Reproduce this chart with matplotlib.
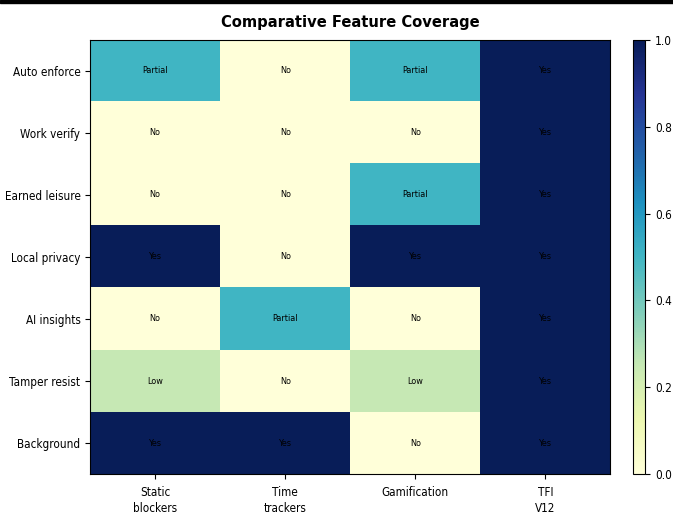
import numpy as np
import matplotlib.pyplot as plt

features = ["Auto enforce", "Work verify", "Earned leisure", "Local privacy",
            "AI insights", "Tamper resist", "Background"]
tools = ["Static\nblockers", "Time\ntrackers", "Gamification", "TFI\nV12"]

labels = [
    ["Partial", "No", "Partial", "Yes"],
    ["No", "No", "No", "Yes"],
    ["No", "No", "Partial", "Yes"],
    ["Yes", "No", "Yes", "Yes"],
    ["No", "Partial", "No", "Yes"],
    ["Low", "No", "Low", "Yes"],
    ["Yes", "Yes", "No", "Yes"],
]
score = {"No": 0.0, "Low": 0.25, "Partial": 0.5, "Yes": 1.0}
values = np.array([[score[s] for s in row] for row in labels])

plt.rcParams['font.family'] = ['DejaVu Sans']
plt.rcParams['font.stretch'] = 'condensed'

fig = plt.figure(figsize=(6.73, 5.17), dpi=100)
ax = fig.add_axes([0.134, 0.083, 0.773, 0.84])
cax = fig.add_axes([0.94, 0.083, 0.019, 0.84])

im = ax.imshow(values, cmap='YlGnBu', vmin=0, vmax=1, aspect='auto')
ax.set_xticks(range(len(tools)))
ax.set_xticklabels(tools, fontsize=8.4, linespacing=1.35)
ax.tick_params(axis='x', pad=5)
ax.set_yticks(range(len(features)))
ax.set_yticklabels(features, fontsize=8.4)
ax.set_title("Comparative Feature Coverage", fontsize=11.8, fontweight='bold', pad=9)

for i in range(len(features)):
    for j in range(len(tools)):
        ax.text(j, i, labels[i][j], ha='center', va='center', fontsize=6.5, color='black')

cb = fig.colorbar(im, cax=cax)
cb.ax.tick_params(labelsize=8.5)

fig.add_artist(plt.Rectangle((0, 0.994), 1, 0.006, transform=fig.transFigure,
                             color='black'))

fig.savefig('out.png', dpi=100)
